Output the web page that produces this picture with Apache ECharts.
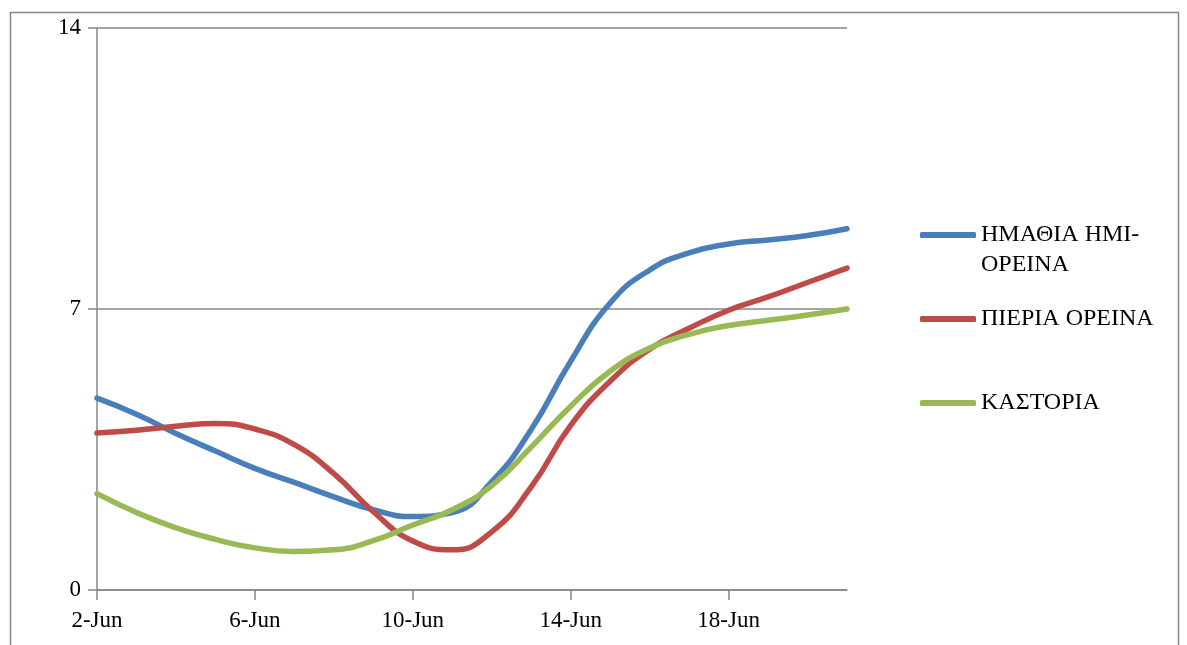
<!DOCTYPE html>
<html>
<head>
<meta charset="utf-8">
<script src="https://cdn.jsdelivr.net/npm/echarts@6/dist/echarts.min.js"></script>
<style>
html,body{margin:0;padding:0;background:#fff;}
#c{width:1187px;height:645px;}
</style>
</head>
<body>
<div id="c"></div>
<script>
const categories = ['2-Jun','3-Jun','4-Jun','5-Jun','6-Jun','7-Jun','8-Jun','9-Jun','10-Jun','11-Jun','12-Jun','13-Jun','14-Jun','15-Jun','16-Jun','17-Jun','18-Jun','19-Jun','20-Jun','21-Jun'];
const seriesNames = ['ΗΜΑΘΙΑ ΗΜΙ-ΟΡΕΙΝΑ', 'ΠΙΕΡΙΑ ΟΡΕΙΝΑ', 'ΚΑΣΤΟΡΙΑ'];
const imathia = [4.78, 4.38, 3.90, 3.46, 3.03, 2.68, 2.32, 2.00, 1.83, 1.93, 2.70, 4.00, 5.70, 7.15, 7.97, 8.40, 8.62, 8.72, 8.83, 9.00];
const pieria  = [3.91, 3.98, 4.08, 4.15, 4.01, 3.62, 2.90, 1.95, 1.22, 1.00, 1.45, 2.57, 4.10, 5.20, 6.00, 6.52, 6.97, 7.30, 7.66, 8.02];
const kastoria = [2.40, 1.93, 1.55, 1.26, 1.05, 0.96, 1.00, 1.23, 1.62, 2.00, 2.60, 3.56, 4.58, 5.45, 6.03, 6.37, 6.59, 6.72, 6.85, 7.00];
const yTicks = [0, 7, 14];

const colors = ['#4A7EBB', '#BE4B48', '#98B954'];
const font = 'Liberation Serif';
const gray = '#878787';

const chart = echarts.init(document.getElementById('c'));

function legendFor(i, top, formatter) {
  return {
    orient: 'vertical',
    left: 920,
    top: top,
    padding: 0,
    data: [seriesNames[i]],
    icon: 'roundRect',
    itemWidth: 56,
    itemHeight: 6,
    selectedMode: false,
    textStyle: { fontFamily: font, fontSize: 24, color: '#000', lineHeight: 30 },
    formatter: formatter
  };
}

chart.setOption({
  animation: false,
  backgroundColor: '#fff',
  graphic: [{
    type: 'rect',
    left: 8, top: 10,
    shape: { x: 0, y: 0, width: 1168, height: 650 },
    style: { fill: 'none', stroke: gray, lineWidth: 1.5 },
    silent: true, z: -1
  }],
  grid: { left: 97, top: 28, right: 340, bottom: 55, containLabel: false },
  legend: [
    legendFor(0, 190, function () { return '\nΗΜΑΘΙΑ ΗΜΙ-\nΟΡΕΙΝΑ'; }),
    legendFor(1, 304),
    legendFor(2, 388)
  ],
  xAxis: {
    type: 'category',
    data: categories,
    boundaryGap: false,
    axisLine: { lineStyle: { color: gray, width: 1.5 } },
    axisTick: { show: true, length: 10, interval: 3, lineStyle: { color: gray, width: 1.5 } },
    axisLabel: { interval: 3, margin: 19, fontFamily: font, fontSize: 23, color: '#000' },
    splitLine: { show: false }
  },
  yAxis: {
    type: 'value',
    min: yTicks[0], max: yTicks[yTicks.length - 1], interval: 7,
    axisLine: { show: true, lineStyle: { color: gray, width: 1.5 } },
    axisTick: { show: true, length: 9, lineStyle: { color: gray, width: 1.5 } },
    axisLabel: { margin: 16, fontFamily: font, fontSize: 23, color: '#000' },
    splitLine: { show: true, lineStyle: { color: gray, width: 1.5 } }
  },
  series: [
    { name: seriesNames[0], data: imathia },
    { name: seriesNames[1], data: pieria },
    { name: seriesNames[2], data: kastoria }
  ].map(function (s, i) {
    return Object.assign(s, {
      type: 'line',
      smooth: 0.5,
      symbol: 'none',
      color: colors[i],
      lineStyle: { color: colors[i], width: 5.5, cap: 'round' },
      itemStyle: { color: colors[i] }
    });
  })
});
</script>
</body>
</html>
